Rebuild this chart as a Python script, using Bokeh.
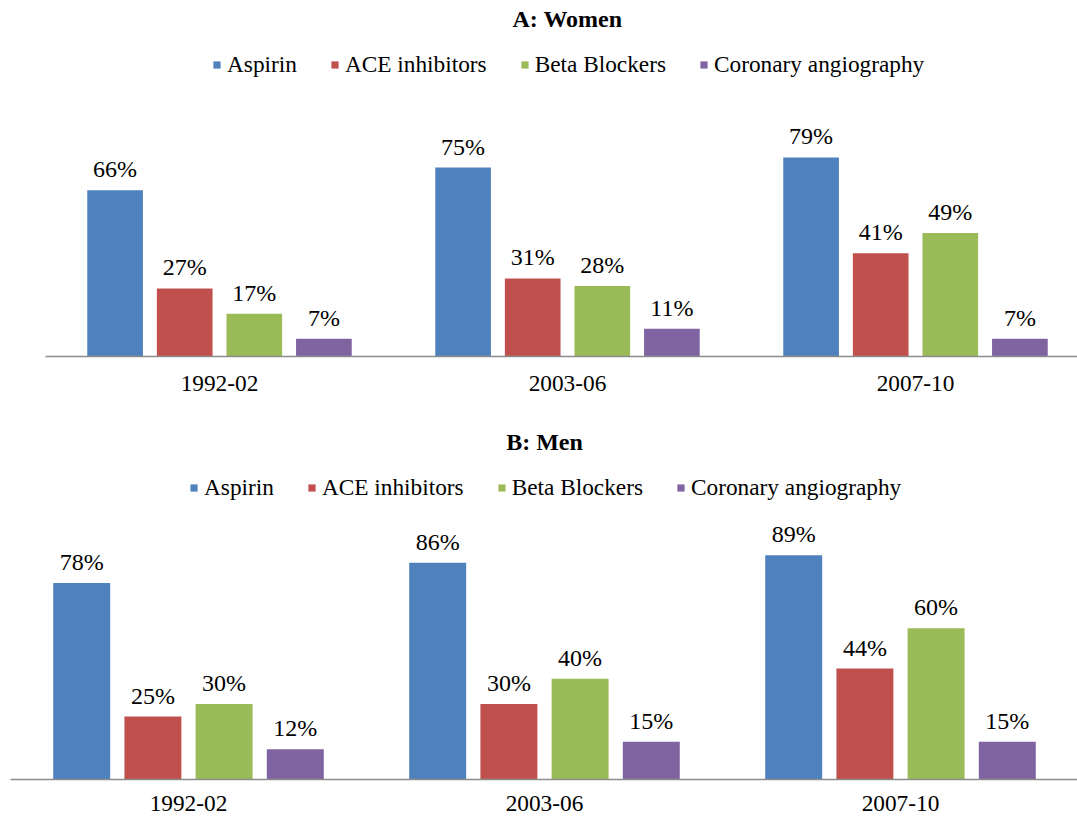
from bokeh.plotting import figure
from bokeh.models import Legend, LegendItem, Label, FixedTicker, Range1d
from bokeh.layouts import column
from bokeh.embed import file_html
from bokeh.resources import INLINE
from bokeh.core.properties import value
import numpy as np

periods = ["1992-02", "2003-06", "2007-10"]
series = ["Aspirin", "ACE inhibitors", "Beta Blockers", "Coronary angiography"]
colors = ["#4F81BD", "#C0504D", "#9BBB59", "#8064A2"]

women_aspirin = [66, 75, 79]
women_ace = [27, 31, 41]
women_beta = [17, 28, 49]
women_coronary = [7, 11, 7]

men_aspirin = [78, 86, 89]
men_ace = [25, 30, 44]
men_beta = [30, 40, 60]
men_coronary = [12, 15, 15]

FONT = "Liberation Serif"
PX_PER_PCT = 2.52
OFFSETS = [-0.3, -0.1, 0.1, 0.3]
BAR_W = 0.16
WIDTH = 1077


def panel(title, data, fig_h, frame_h, border_left, unit_px, legend_vx, standoff):
    frame_w = WIDTH - border_left
    p = figure(width=WIDTH, height=fig_h, output_backend="svg", toolbar_location=None,
               x_range=Range1d(0, frame_w / unit_px),
               y_range=Range1d(0, frame_h / PX_PER_PCT),
               min_border_left=border_left, min_border_right=0, min_border_top=0,
               min_border_bottom=fig_h - frame_h, y_axis_location=None, tools="",
               frame_align=False)
    p.outline_line_color = None
    p.xgrid.visible = False
    p.ygrid.visible = False

    centers = np.arange(len(periods)) + 0.5
    items = []
    for vals, name, col, off in zip(data, series, colors, OFFSETS):
        xs = centers + off
        r = p.vbar(x=xs, top=vals, width=BAR_W, bottom=0, fill_color=col, line_color=None)
        p.text(x=xs, y=vals, text=[f"{v}%" for v in vals], text_align="center",
               text_baseline="alphabetic", y_offset=-21, text_font=value(FONT),
               text_font_size="24px", text_color="black")
        items.append(LegendItem(label=name, renderers=[r]))

    legend = Legend(items=items, orientation="horizontal", location=(legend_vx, 278),
                    glyph_width=9, glyph_height=9, label_standoff=6, spacing=33,
                    padding=0, margin=0, border_line_color=None, background_fill_alpha=0,
                    label_text_font=FONT, label_text_font_size="23.3px",
                    label_text_color="black")
    p.add_layout(legend)

    p.add_layout(Label(x=1.5, y=133.8, text=title, text_align="center",
                       text_baseline="alphabetic", text_font=FONT, text_font_size="24px",
                       text_font_style="bold", text_color="black"))

    p.xaxis.ticker = FixedTicker(ticks=list(centers))
    p.xaxis.major_label_overrides = {float(c): lab for c, lab in zip(centers, periods)}
    p.xaxis.major_tick_line_color = None
    p.xaxis.minor_tick_line_color = None
    p.xaxis.major_tick_out = 0
    p.xaxis.major_label_standoff = standoff
    p.xaxis.major_label_text_font = FONT
    p.xaxis.major_label_text_font_size = "23.3px"
    p.xaxis.major_label_text_color = "black"
    p.xaxis.axis_line_color = "#8c8c8c"
    p.xaxis.axis_line_width = 1.5
    return p


pA = panel("A: Women", [women_aspirin, women_ace, women_beta, women_coronary],
           fig_h=410, frame_h=356, border_left=45, unit_px=348, legend_vx=167, standoff=19)
pB = panel("B: Men", [men_aspirin, men_ace, men_beta, men_coronary],
           fig_h=410, frame_h=369, border_left=10, unit_px=356, legend_vx=179, standoff=16)

layout = column(pA, pB)

open("out.html", "w").write(file_html(layout, INLINE))
